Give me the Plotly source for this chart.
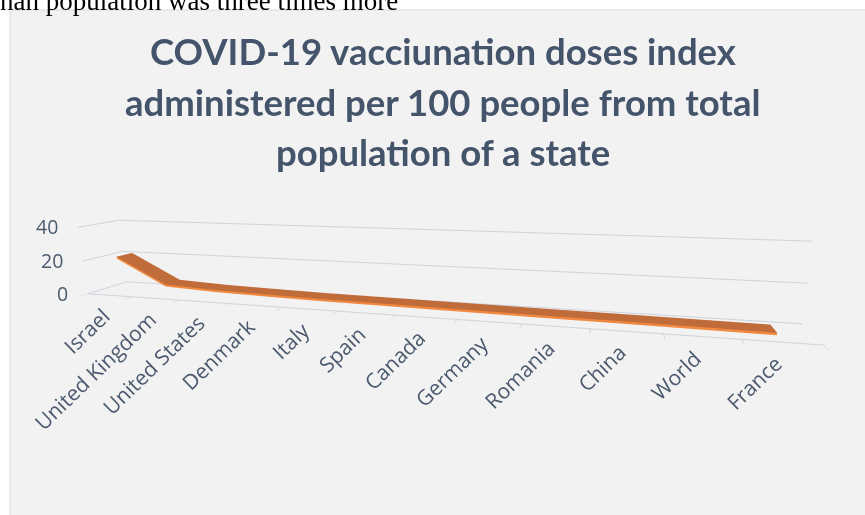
import plotly.graph_objects as go

# ---- data ----
categories = ["Israel", "United Kingdom", "United States", "Denmark", "Italy", "Spain",
              "Canada", "Germany", "Romania", "China", "World", "France"]
doses_per_100 = [20.3, 5.0, 3.6, 2.9, 2.3, 2.0, 1.7, 1.4, 1.1, 0.9, 0.6, 0.3]
z_ticks = [0, 20, 40]
title_lines = ["COVID-19 vacciunation doses index",
               "administered per 100 people from total",
               "population of a state"]
header_text = "nan population was three times more"

# ---- styling ----
W, H = 865, 515
TOP_COLOR = "#C06C3A"
FRONT_COLOR = "#F0883F"
GRID = "#CDD3DC"
LABEL = "#4B5A6E"
TITLE = "#44546A"
Y0, Y1 = 0.28, 0.68
THICK = 1.2

n = len(categories)
idx = list(range(n))
top_z = [v + THICK for v in doses_per_100]

flat = dict(ambient=1, diffuse=0, specular=0, roughness=1, fresnel=0)

top = go.Surface(
    x=[idx, idx], y=[[Y0] * n, [Y1] * n], z=[top_z, top_z],
    surfacecolor=[[0] * n, [0] * n], colorscale=[[0, TOP_COLOR], [1, TOP_COLOR]],
    showscale=False, lighting=flat, hoverinfo="skip",
)
front = go.Surface(
    x=[idx, idx], y=[[Y0] * n, [Y0] * n], z=[doses_per_100, top_z],
    surfacecolor=[[0] * n, [0] * n], colorscale=[[0, FRONT_COLOR], [1, FRONT_COLOR]],
    showscale=False, lighting=flat, hoverinfo="skip",
)

fig = go.Figure([front, top])

scene_ann = []
for i, c in enumerate(categories):
    scene_ann.append(dict(x=i, y=0, z=0, text=c, showarrow=False, textangle=-44,
                          xanchor="right", yanchor="top", xshift=8, yshift=-5,
                          font=dict(family="Open Sans", size=21, color=LABEL)))
for t in z_ticks:
    scene_ann.append(dict(x=-0.5, y=0, z=t, text=str(t), showarrow=False,
                          xanchor="right", yanchor="middle", xshift=-18,
                          font=dict(family="Open Sans", size=19.5, color=LABEL)))

ax_common = dict(showbackground=False, zeroline=False, showspikes=False, title=dict(text=""))
fig.update_layout(
    width=W, height=H, margin=dict(l=0, r=0, t=0, b=0),
    paper_bgcolor="white", showlegend=False,
    scene=dict(
        domain=dict(x=[0.0543, 1.0], y=[0.028, 0.966]),
        dragmode="orbit",
        aspectmode="manual", aspectratio=dict(x=2.242, y=0.17, z=0.23),
        camera=dict(eye=dict(x=0.597, y=-1.630, z=0.399),
                    center=dict(x=0.170, y=-0.023, z=0.047),
                    up=dict(x=0.012, y=0, z=1), projection=dict(type="perspective")),
        bgcolor="rgba(0,0,0,0)",
        xaxis=dict(range=[-0.5, n - 0.5], showgrid=False, showline=True, linecolor=GRID,
                   linewidth=2, ticks="outside", tickvals=[i - 0.5 for i in range(n + 1)],
                   ticklen=6, tickcolor=GRID, tickwidth=2, showticklabels=False, **ax_common),
        yaxis=dict(range=[0, 1], showgrid=False, showline=False, ticks="",
                   showticklabels=False, **ax_common),
        zaxis=dict(range=[z_ticks[0], z_ticks[-1]], tickvals=z_ticks, showgrid=True,
                   gridcolor=GRID, gridwidth=2, showline=False, ticks="",
                   showticklabels=False, **ax_common),
        annotations=scene_ann,
    ),
    shapes=[dict(type="rect", xref="paper", yref="paper", layer="below",
                 x0=10 / W, x1=1.01, y0=-0.01, y1=1 - 10 / H,
                 fillcolor="#F2F2F2", line=dict(color="#D9D9D9", width=1))],
)

title_y = [51, 102, 152]
for line, yy in zip(title_lines, title_y):
    fig.add_annotation(text="<b>%s</b>" % line, x=443 / W, y=1 - yy / H, xref="paper", yref="paper",
                       xanchor="center", yanchor="middle", showarrow=False,
                       font=dict(family="Lato", size=36.5, color=TITLE))
fig.add_annotation(text=header_text, x=-2 / W, y=1 - 18 / H, xref="paper", yref="paper",
                   xanchor="left", yanchor="bottom", showarrow=False,
                   font=dict(family="Liberation Serif", size=27, color="black"))

fig.write_html("out.html", config={"displayModeBar": False})
